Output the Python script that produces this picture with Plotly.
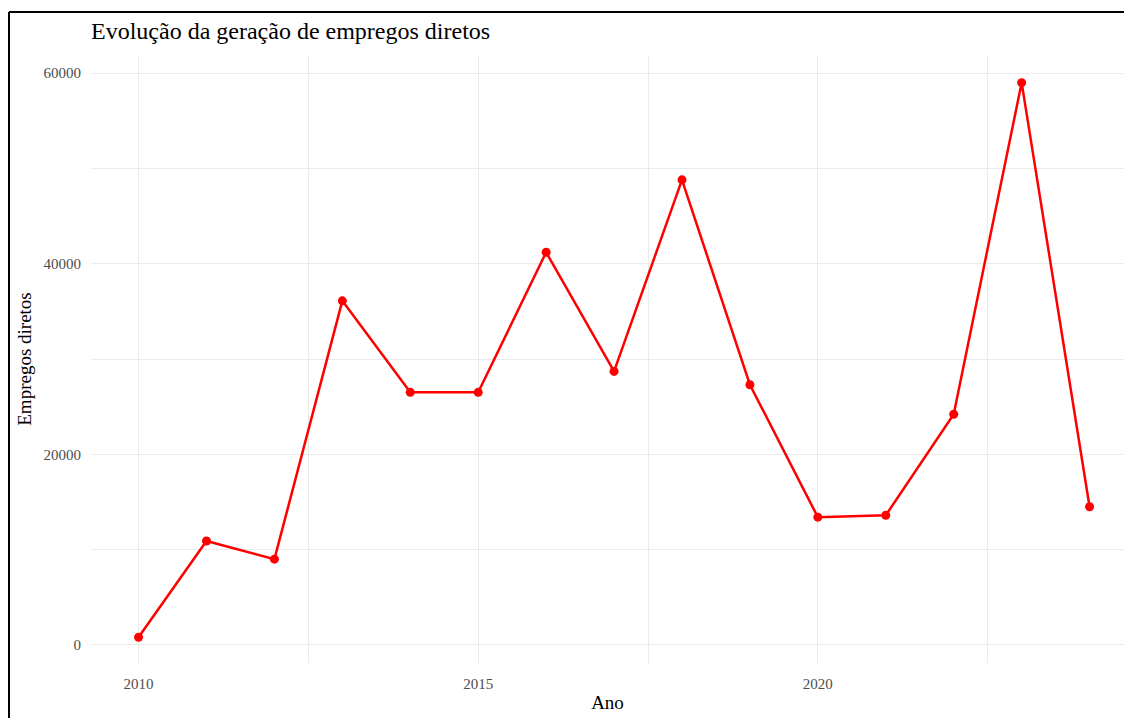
import plotly.graph_objects as go

# Direct jobs created per year
anos = [2010, 2011, 2012, 2013, 2014, 2015, 2016, 2017, 2018, 2019, 2020, 2021, 2022, 2023, 2024]
empregos = [800, 10900, 9000, 36100, 26500, 26500, 41200, 28700, 48800, 27300, 13400, 13600, 24200, 59000, 14500]

FONT = "Liberation Serif, Times New Roman, serif"
GRID = "#ebebeb"
TICK_FONT = dict(size=15, color="#4d4d4d", family=FONT)
AXIS_TITLE_FONT = dict(size=19, color="#000000", family=FONT)

# the page body adds an 8px offset on every side, so the figure is sized
# to fit the window exactly and margins are shifted to compensate
W, H = 1116, 710
L, R, T, B = 83, 0, 47, 55
PW, PH = W - L - R, H - T - B

fig = go.Figure()
fig.add_trace(
    go.Scatter(
        x=anos, y=empregos, mode="lines+markers",
        line=dict(color="#ff0000", width=2.5),
        marker=dict(color="#ff0000", size=9),
        showlegend=False,
    )
)

fig.update_layout(
    width=W, height=H,
    margin=dict(l=L, r=R, t=T, b=B),
    paper_bgcolor="white", plot_bgcolor="white",
    font=dict(family=FONT, color="#000000"),
    title=dict(
        text="Evolução da geração de empregos diretos",
        x=0, xref="paper", xanchor="left",
        y=1 - 23 / H, yref="container", yanchor="middle",
        font=dict(size=24, family=FONT, color="#000000"),
    ),
)

fig.update_xaxes(
    range=[2009.3, 2009.3 + PW / 67.93],
    tickvals=[2010, 2015, 2020], tickformat="d",
    ticks="", ticklabelstandoff=10,
    tickfont=TICK_FONT,
    showgrid=True, gridcolor=GRID, gridwidth=1.2,
    minor=dict(tick0=2010, dtick=2.5, showgrid=True, gridcolor=GRID, gridwidth=1),
    zeroline=False, showline=False, automargin=False,
    title=dict(text="Ano", font=AXIS_TITLE_FONT, standoff=4),
)
fig.update_yaxes(
    range=[-1900, 61900],
    tick0=0, dtick=20000, tickformat="d",
    ticks="", ticklabelstandoff=9,
    tickfont=TICK_FONT,
    showgrid=True, gridcolor=GRID, gridwidth=1.2,
    minor=dict(tick0=0, dtick=10000, showgrid=True, gridcolor=GRID, gridwidth=1),
    zeroline=False, showline=False, automargin=False,
    title=dict(text="Empregos diretos", font=AXIS_TITLE_FONT, standoff=6),
)

# black frame around the whole plot: only the left and top edges are in view
frame_x = (1 - L) / PW
frame_y = (PH + T - 4) / PH
frame = dict(color="black", width=2)
fig.add_shape(type="line", xref="paper", yref="paper",
              x0=frame_x, x1=frame_x, y0=-0.5, y1=frame_y, line=frame, layer="above")
fig.add_shape(type="line", xref="paper", yref="paper",
              x0=frame_x, x1=1.3, y0=frame_y, y1=frame_y, line=frame, layer="above")

fig.write_html("out.html")
